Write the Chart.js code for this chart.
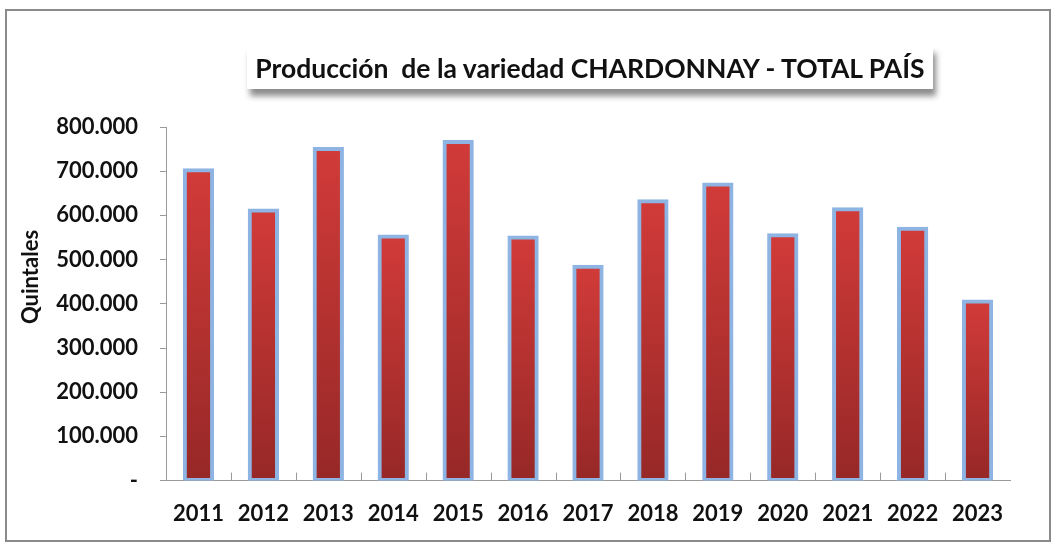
<!DOCTYPE html>
<html>
<head>
<meta charset="utf-8">
<script src="https://cdn.jsdelivr.net/npm/chart.js@4.4.1/dist/chart.umd.min.js"></script>
<style>
  html, body { margin: 0; padding: 0; background: #fff; }
  #wrap { position: relative; width: 1053px; height: 548px; }
  #frame { position: absolute; left: 5px; top: 9px; width: 1042px; height: 529px;
           border: 2px solid #8a8a8a; pointer-events: none; }
  #title { position: absolute; left: 247px; top: 46px; width: 686px; height: 43px;
           background: #fff; box-shadow: 3px 7px 6px rgba(0,0,0,0.45);
           font: bold 26.5px Lato, sans-serif; color: #111; white-space: pre;
           display: flex; align-items: center; justify-content: center; }
</style>
</head>
<body>
<div id="wrap">
  <canvas id="chBar" width="1053" height="548"></canvas>
  <div id="frame"></div>
  <div id="title">Producción  de la variedad CHARDONNAY - TOTAL PAÍS</div>
</div>
<script>
// production per year (quintales)
var years = ['2011','2012','2013','2014','2015','2016','2017','2018','2019','2020','2021','2022','2023'];
var quintales = [702000, 611000, 750000, 552000, 766000, 550000, 484000, 632000, 670000, 555000, 614000, 570000, 405000];
var yTicks = [0, 100000, 200000, 300000, 400000, 500000, 600000, 700000, 800000];

function fmt(v) {
    if (v === 0) return '-';
    return String(v).replace(/\B(?=(\d{3})+(?!\d))/g, '.');
}

// y axis title, placed like the original (not centred on the axis)
var axisTitle = {
    id: 'axisTitle',
    afterDraw: function(chart) {
        var ctx = chart.ctx;
        ctx.save();
        ctx.translate(31, 277);
        ctx.rotate(-Math.PI / 2);
        ctx.font = 'bold 22px Lato, sans-serif';
        ctx.fillStyle = '#111';
        ctx.textAlign = 'center';
        ctx.textBaseline = 'middle';
        ctx.fillText('Quintales', 0, 0);
        ctx.restore();
    }
};

// small tick marks between categories, pointing up into the plot
var innerTicks = {
    id: 'innerTicks',
    afterDatasetsDraw: function(chart) {
        var x = chart.scales.x, y = chart.scales.y;
        var ctx = chart.ctx;
        var base = y.getPixelForValue(0);
        var step = x.getPixelForValue(1) - x.getPixelForValue(0);
        ctx.save();
        ctx.strokeStyle = '#999';
        ctx.lineWidth = 1;
        for (var i = 1; i < years.length; i++) {
            var px = Math.round(x.getPixelForValue(i) - step / 2) + 0.5;
            ctx.beginPath();
            ctx.moveTo(px, base);
            ctx.lineTo(px, base - 8);
            ctx.stroke();
        }
        ctx.restore();
    }
};

var chBar = document.getElementById('chBar');
new Chart(chBar, {
    type: 'bar',
    data: {
        labels: years,
        datasets: [{
            label: 'Quintales',
            data: quintales,
            backgroundColor: function(c) {
                var chart = c.chart;
                if (!chart.chartArea || c.raw === undefined) return '#c23535';
                var y = chart.scales.y;
                var top = y.getPixelForValue(c.raw);
                var bottom = y.getPixelForValue(0);
                var g = chart.ctx.createLinearGradient(0, top, 0, bottom);
                g.addColorStop(0, '#d13b39');
                g.addColorStop(1, '#962827');
                return g;
            },
            borderColor: '#8db4e3',
            borderWidth: 4,
            borderSkipped: false,
            inflateAmount: 2,
            barPercentage: 0.42,
            categoryPercentage: 1
        }]
    },
    options: {
        responsive: false,
        animation: false,
        layout: {
            padding: { left: 0, right: 43, top: 127, bottom: 1 }
        },
        plugins: {
            legend: { display: false },
            tooltip: { enabled: false }
        },
        scales: {
            y: {
                min: 0,
                max: 800000,
                afterFit: function(s) { s.width = 166; },
                afterBuildTicks: function(s) {
                    s.ticks = yTicks.map(function(v) { return { value: v }; });
                },
                ticks: {
                    callback: function(v) { return fmt(v); },
                    font: { family: 'Lato', weight: 'bold', size: 22 },
                    color: '#111',
                    padding: 22
                },
                grid: { drawOnChartArea: false, drawTicks: true, tickLength: 6, color: '#9a9a9a' },
                border: { color: '#9a9a9a', width: 1 }
            },
            x: {
                ticks: {
                    font: { family: 'Lato', weight: 'bold', size: 22 },
                    color: '#111',
                    padding: 20
                },
                grid: { display: true, drawOnChartArea: false, drawTicks: false, color: '#9a9a9a' },
                border: { color: '#9a9a9a', width: 1 }
            }
        }
    },
    plugins: [axisTitle, innerTicks]
});
</script>
</body>
</html>
